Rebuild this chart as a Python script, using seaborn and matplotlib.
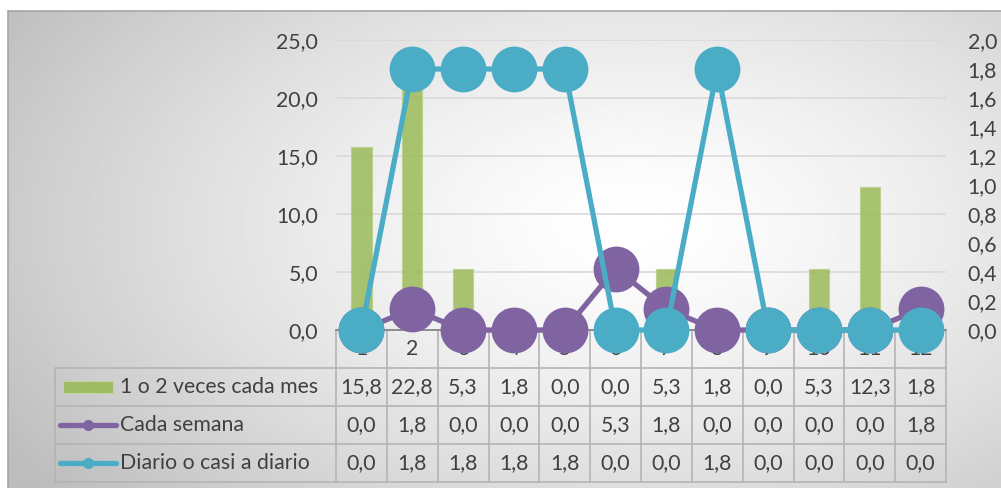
import numpy as np
import pandas as pd
import matplotlib
matplotlib.use("Agg")
import matplotlib.pyplot as plt
from matplotlib.lines import Line2D
from matplotlib.patches import Rectangle
import matplotlib.transforms as mtransforms
import seaborn as sns

# ---- data -------------------------------------------------------------
categories = ["1", "2", "3", "4", "5", "6", "7", "8", "9", "10", "11", "12"]
mensual = [15.8, 22.8, 5.3, 1.8, 0.0, 0.0, 5.3, 1.8, 0.0, 5.3, 12.3, 1.8]
semanal = [0.0, 1.8, 0.0, 0.0, 0.0, 5.3, 1.8, 0.0, 0.0, 0.0, 0.0, 1.8]
diario = [0.0, 1.8, 1.8, 1.8, 1.8, 0.0, 0.0, 1.8, 0.0, 0.0, 0.0, 0.0]
series_names = ["1 o 2 veces cada mes", "Cada semana", "Diario o casi a diario"]
left_ticks = [0, 5, 10, 15, 20, 25]
right_ticks = [0.0, 0.2, 0.4, 0.6, 0.8, 1.0, 1.2, 1.4, 1.6, 1.8, 2.0]

GREEN = "#9BBB59"
PURPLE = "#8064A2"
BLUE = "#4BACC6"
TXT = "#404040"
CELL = "#B4B4B4"
FS = 15.3

sns.set_theme(style="white")
plt.rcParams["font.family"] = ["Lato", "DejaVu Sans"]

W, H = 1001, 488
fig = plt.figure(figsize=(W / 100, H / 100), dpi=100, facecolor="white")


def fx(px):
    return px / W


def fy(py):
    return 1 - py / H


def fmt(v):
    return f"{v:.1f}".replace(".", ",")


# ---- chart background: soft radial gradient --------------------------
bg = fig.add_axes([fx(8), 0, 1 - fx(8), fy(11)], zorder=-10)
gx, gy = np.meshgrid(np.linspace(0, 1, 400), np.linspace(0, 1, 200))
r = np.sqrt(((gx - 0.63) / 0.75) ** 2 + ((gy - 0.45) / 0.9) ** 2)
shade = np.clip(1.0 - 0.26 * r ** 1.4, 0.74, 1.0)
bg.imshow(shade, cmap="gray", vmin=0, vmax=1, aspect="auto",
          extent=[0, 1, 0, 1], origin="upper")
bg.set_axis_off()
fig.add_artist(Line2D([fx(8), 1], [fy(11), fy(11)], color="#A6A6A6", lw=1.2,
                      transform=fig.transFigure))
fig.add_artist(Line2D([fx(8), fx(8)], [0, fy(11)], color="#A6A6A6", lw=1.2,
                      transform=fig.transFigure))

# ---- main axes --------------------------------------------------------
ax = fig.add_axes([fx(336), fy(330), fx(946) - fx(336), fy(40) - fy(330)])
ax.patch.set_visible(False)

df = pd.DataFrame({"pos": np.arange(len(categories)),
                   "cat": categories,
                   "mensual": mensual,
                   "semanal": semanal,
                   "diario": diario})

sns.barplot(data=df, x="pos", y="mensual", ax=ax, color=GREEN, width=0.4,
            saturation=1, alpha=0.85, edgecolor="#B9D08A", linewidth=0.8,
            zorder=2)
sns.lineplot(data=df, x="pos", y="semanal", ax=ax, color=PURPLE,
             linewidth=3.8, marker="o", markersize=33, markeredgewidth=0,
             clip_on=False, zorder=5)

ax.set_xlim(-0.5, len(categories) - 0.5)
ax.set_ylim(0, 25)
ax.set_yticks(left_ticks)
ax.set_yticklabels([fmt(v) for v in left_ticks], fontsize=FS, color=TXT)
ax.set_xticks([])
ax.set_xlabel("")
ax.set_ylabel("")
ax.tick_params(axis="y", length=0, pad=13)
ax.grid(axis="y", color="#D9D9D9", linewidth=1.2, zorder=0)
ax.set_axisbelow(True)
for s in ["top", "left", "right"]:
    ax.spines[s].set_visible(False)
ax.spines["bottom"].set_color("#868686")
ax.spines["bottom"].set_linewidth(1.3)

# ---- secondary axis ---------------------------------------------------
ax2 = ax.twinx()
ax2.patch.set_visible(False)
sns.lineplot(data=df, x="pos", y="diario", ax=ax2, color=BLUE,
             linewidth=3.8, marker="o", markersize=33, markeredgewidth=0,
             clip_on=False, zorder=5)
ax2.set_ylim(0, 2.0)
ax2.set_yticks(right_ticks)
ax2.set_yticklabels([fmt(v) for v in right_ticks], fontsize=FS, color=TXT)
ax2.tick_params(axis="y", length=0, pad=15.5)
ax2.set_ylabel("")
ax2.set_xlabel("")
ax2.grid(False)
for s in ax2.spines.values():
    s.set_visible(False)
ax.set_xlim(-0.5, len(categories) - 0.5)

# ---- data table below the plot ----------------------------------------
mix = mtransforms.blended_transform_factory(ax.transData, fig.transFigure)
ftr = fig.transFigure
n = len(categories)
row_edges = [368, 406, 444, 482]
row_mid = [387, 425, 463]


def hline(x0, x1, y, tr=ftr):
    ax.add_line(Line2D([x0, x1], [fy(y), fy(y)], color=CELL, lw=1.2,
                       transform=tr, clip_on=False, zorder=1))


def vline(x, y0, y1, tr=ftr):
    ax.add_line(Line2D([x, x], [fy(y0), fy(y1)], color=CELL, lw=1.2,
                       transform=tr, clip_on=False, zorder=1))


for y in row_edges:
    hline(fx(55), fx(946), y)
vline(fx(55), 368, 482)
for i in range(n + 1):
    vline(i - 0.5, 331, 482, tr=mix)

# header row: category numbers
for i, c in enumerate(categories):
    ax.text(i, fy(349), c, transform=mix, ha="center", va="center",
            fontsize=FS, color=TXT, zorder=1.5, clip_on=False)

# value rows
for vals, ym in zip([mensual, semanal, diario], row_mid):
    for i, v in enumerate(vals):
        ax.text(i, fy(ym), fmt(v), transform=mix, ha="center", va="center",
                fontsize=FS, color=TXT, zorder=1.5, clip_on=False)

# series keys
ax.add_patch(Rectangle((fx(63), fy(393)), fx(113) - fx(63), fy(381) - fy(393),
                       transform=ftr, facecolor=GREEN, alpha=0.9,
                       edgecolor="#C6D9A0", lw=0.8, clip_on=False, zorder=1.5))
for ym, col in zip(row_mid[1:], [PURPLE, BLUE]):
    ax.add_line(Line2D([fx(60), fx(116)], [fy(ym), fy(ym)], color=col, lw=3.8,
                       solid_capstyle="round", transform=ftr, clip_on=False,
                       zorder=1.5))
    ax.add_line(Line2D([fx(88)], [fy(ym)], color=col, marker="o",
                       markersize=8, markeredgewidth=0, transform=ftr,
                       clip_on=False, zorder=1.6))
for name, ym in zip(series_names, row_mid):
    ax.text(fx(120), fy(ym), name, transform=ftr, ha="left", va="center",
            fontsize=FS, color=TXT, zorder=1.5, clip_on=False)

fig.savefig("out.png", dpi=100, facecolor="white")
